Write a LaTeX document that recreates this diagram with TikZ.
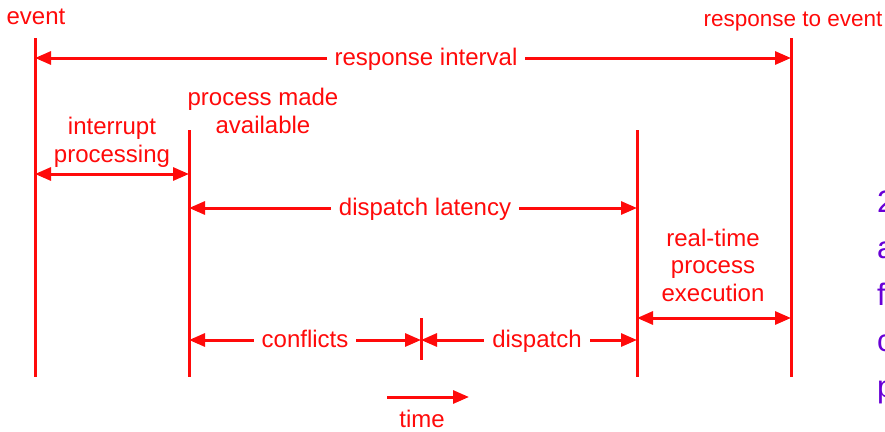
\documentclass[tikz,border=0pt]{standalone}
\usepackage{fontspec}
\setmainfont{Liberation Sans}
\usetikzlibrary{arrows.meta}
\definecolor{tred}{RGB}{255,10,10}
\definecolor{tpurple}{RGB}{104,0,214}
\tikzset{
  tip/.tip={Triangle[length=16pt,width=13pt]},
  mark line/.style={draw=tred, line width=3pt},
  span/.style={draw=tred, line width=3pt, tip-tip},
  onward/.style={draw=tred, line width=3pt, -tip},
  lbl/.style={text=tred, font=\fontsize{24}{27.5}\selectfont, inner sep=0pt, anchor=base},
  gap/.style={lbl, fill=white, inner xsep=8pt, inner ysep=6pt},
  side/.style={text=tpurple, font=\fontsize{31}{36}\selectfont, inner sep=0pt, anchor=base west}
}
\begin{document}
\begin{tikzpicture}[x=1pt, y=-1pt]
\useasboundingbox (0,0) rectangle (885,431);
\fill[white] (0,0) rectangle (885,431);

% time marks
\coordinate (evTop) at (35,38);   \coordinate (evBot) at (35,377);
\coordinate (reTop) at (791,38);  \coordinate (reBot) at (791,377);
\coordinate (paTop) at (189,130); \coordinate (paBot) at (189,377);
\coordinate (dsTop) at (637,130); \coordinate (dsBot) at (637,377);
\coordinate (cfTop) at (421,318); \coordinate (cfBot) at (421,360);
\draw[mark line] (evTop) -- (evBot);
\draw[mark line] (reTop) -- (reBot);
\draw[mark line] (paTop) -- (paBot);
\draw[mark line] (dsTop) -- (dsBot);
\draw[mark line] (cfTop) -- (cfBot);

% interval ends
\coordinate (riL) at (35,58);  \coordinate (riR) at (791,58);
\coordinate (ipL) at (35,174); \coordinate (ipR) at (189,174);
\coordinate (dlL) at (189,208); \coordinate (dlR) at (637,208);
\coordinate (rtL) at (637,318); \coordinate (rtR) at (791,318);
\coordinate (cnL) at (189,340); \coordinate (cnR) at (421,340);
\coordinate (dpL) at (421,340); \coordinate (dpR) at (637,340);
\coordinate (tmL) at (387,397); \coordinate (tmR) at (469,397);

\draw[span] (riL) -- (riR);
\draw[span] (ipL) -- (ipR);
\draw[span] (dlL) -- (dlR);
\draw[span] (rtL) -- (rtR);
\draw[span] (cnL) -- (cnR);
\draw[span] (dpL) -- (dpR);
\draw[onward] (tmL) -- (tmR);

% labels sitting on the interval lines
\node[gap] (riLbl) at (426,65) {response interval};
\node[gap] (dlLbl) at (425,215) {dispatch latency};
\node[gap] (cnLbl) at (305,347) {conflicts};
\node[gap] (dpLbl) at (537,347) {dispatch};

% labels above the marks (base anchor of a multi-line node = last line)
\node[lbl] (evLbl) at (36,24) {event};
\node[lbl, font=\fontsize{22.5}{27}\selectfont] (reLbl) at (793,26) {response to event};
\node[lbl, align=center] (paLbl) at (263,133) {process made\\available};
\node[lbl, align=center] (ipLbl) at (112,162) {interrupt\\processing};
\node[lbl, align=center] (rtLbl) at (713,301) {real-time\\process\\execution};
\node[lbl] (tmLbl) at (422,427) {time};

% text running off the right edge
\node[side] (s1) at (877,212) {2};
\node[side] (s2) at (877,258) {a};
\node[side] (s3) at (877,305) {f};
\node[side] (s4) at (877,351) {c};
\node[side] (s5) at (877,397) {p};
\end{tikzpicture}
\end{document}
